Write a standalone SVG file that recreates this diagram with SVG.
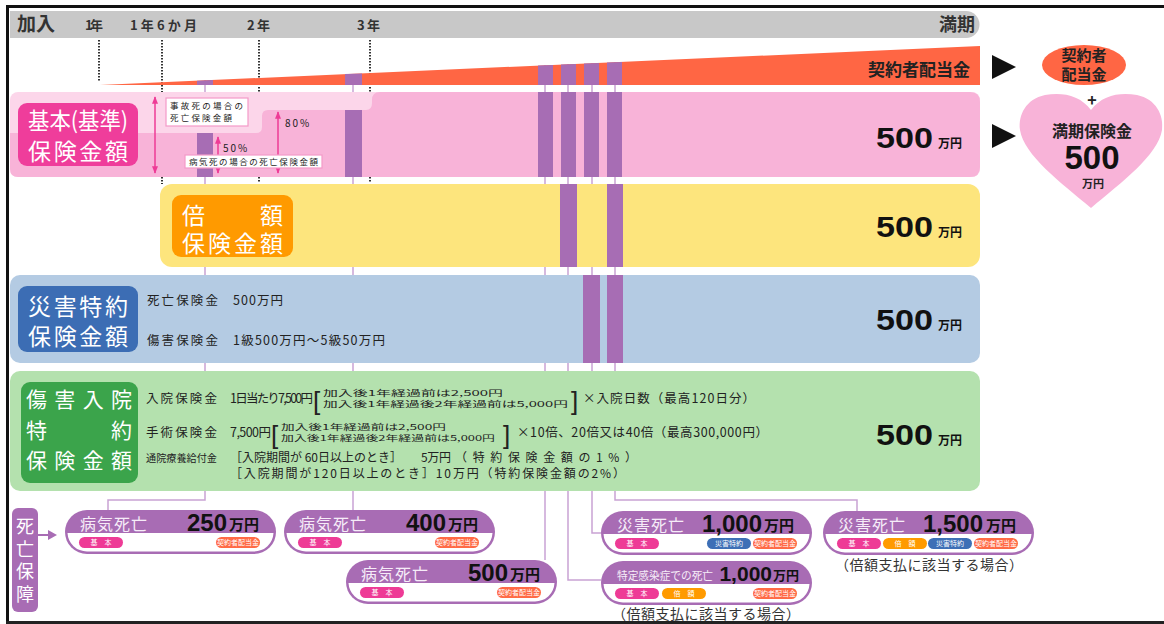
<svg xmlns="http://www.w3.org/2000/svg" width="1164" height="624" viewBox="0 0 1164 624">
<style>
.jp{font-family:'Noto Sans CJK JP','Noto Sans CJK SC',sans-serif}
.n{font-family:'Liberation Sans',Arial,sans-serif;font-weight:bold;fill:#111}
.lbl{font-family:'Noto Sans CJK JP',sans-serif;fill:#fff;font-size:23px}
.yen{font-family:'Noto Sans CJK JP',sans-serif;font-weight:bold;font-size:12px;fill:#111}
.t{font-family:'Noto Sans CJK JP',sans-serif;font-size:12.5px;fill:#222}
.sm{font-family:'Noto Sans CJK JP',sans-serif;font-size:8px;fill:#222}
.br{font-family:'Liberation Sans',sans-serif;font-size:26px;fill:#222}
.con{fill:none;stroke:#c9a2d4;stroke-width:1.5}
.bar{fill:#a76db4}
.dot{stroke:#333;stroke-width:2;stroke-dasharray:1.5 1.5}
.pt{font-family:'Noto Sans CJK JP',sans-serif;font-size:7px;fill:#fff;text-anchor:middle}
.hd{font-family:'Noto Sans CJK JP',sans-serif;font-size:16px;fill:#f6ecf8;letter-spacing:1px}
.bn{font-family:'Liberation Sans',Arial,sans-serif;font-weight:bold;font-size:24px;fill:#111;text-anchor:end}
.by{font-family:'Noto Sans CJK JP',sans-serif;font-size:15px;font-weight:bold;fill:#111}
.cap{font-family:'Noto Sans CJK JP',sans-serif;font-size:14px;fill:#333}
.pk{fill:#ee3b96}.og{fill:#ff9a00}.bl{fill:#3d6fb6}.rd{fill:#ff6a45}
.parr{stroke:#ee3b96;stroke-width:1.5;marker-start:url(#ah);marker-end:url(#ah)}
.bx{fill:#fff;stroke:#f49ac8;stroke-width:1.2}
</style>
<defs>
<marker id="ah" viewBox="0 0 10 10" refX="9" refY="5" markerWidth="5" markerHeight="5" orient="auto-start-reverse"><path d="M0,1 L10,5 L0,9 z" fill="#ee3b96"/></marker>
<g id="dbox"><rect width="211" height="44" rx="22" fill="#a86cb4"/><path d="M2.5,23 H208.5 A19.5,19.5 0 0 1 189,41.5 H22 A19.5,19.5 0 0 1 2.5,23 Z" fill="#fff"/></g>
<rect id="pill" width="44" height="11" rx="5.5"/>
</defs>

<!-- frame -->
<rect x="6" y="5" width="1158" height="3" fill="#111"/>
<rect x="6" y="5" width="3" height="619" fill="#111"/>
<rect x="6" y="621" width="1158" height="3" fill="#222"/>

<!-- timeline bar -->
<g id="timeline">
<path d="M10,11 H966 A13.5,13.5 0 0 1 966,38 H10 Z" fill="#c8c8c8"/>
<text class="jp" x="17" y="31" font-size="19" font-weight="bold" fill="#333">加入</text>
<text class="jp" x="85" y="30" font-size="13" font-weight="bold" fill="#333" textLength="18">1年</text>
<text class="jp" x="130" y="30" font-size="13" font-weight="bold" fill="#333" textLength="67">1年6か月</text>
<text class="jp" x="247" y="30" font-size="13" font-weight="bold" fill="#333" textLength="23">2年</text>
<text class="jp" x="357" y="30" font-size="13" font-weight="bold" fill="#333" textLength="23">3年</text>
<text class="jp" x="975" y="31" font-size="18" font-weight="bold" fill="#333" text-anchor="end">満期</text>
<line class="dot" x1="99" y1="40" x2="99" y2="82"/>
<line class="dot" x1="162" y1="40" x2="162" y2="92"/>
<line class="dot" x1="259" y1="40" x2="259" y2="82"/>
<line class="dot" x1="370" y1="40" x2="370" y2="82"/>
<line class="dot" x1="259" y1="87" x2="259" y2="92"/>
<line class="dot" x1="370" y1="87" x2="370" y2="92"/>
<line class="dot" x1="162" y1="177" x2="162" y2="184"/>
<line class="dot" x1="259" y1="177" x2="259" y2="183"/>
<line class="dot" x1="370" y1="177" x2="370" y2="183"/>
</g>

<!-- connectors -->
<g id="connectors">
<path class="con" d="M205,80 V500 H108 V510"/>
<path class="con" d="M353,74 V510"/>
<path class="con" d="M545,65 V560"/>
<path class="con" d="M568,64 V580 H601"/>
<path class="con" d="M592,63 V533 H601"/>
<path class="con" d="M615,62 V500 H857 V511"/>
</g>

<!-- dividend wedge -->
<g id="dividend">
<polygon points="100,85 980,46 980,85" fill="#ff6644"/>
<polygon class="bar" points="197,80.7 213,80 213,85 197,85"/>
<polygon class="bar" points="345,74.1 362,73.4 362,85 345,85"/>
<polygon class="bar" points="538,65.6 553,64.9 553,85 538,85"/>
<polygon class="bar" points="561,64.6 576,63.9 576,85 561,85"/>
<polygon class="bar" points="584,63.5 599,62.9 599,85 584,85"/>
<polygon class="bar" points="607,62.5 622,61.9 622,85 607,85"/>
<text class="jp" x="970" y="76" font-size="17" font-weight="bold" fill="#222" text-anchor="end">契約者配当金</text>
<polygon points="992,55 1016,67 992,79" fill="#111"/>
<ellipse cx="1084" cy="65" rx="42" ry="20" fill="#ff6644"/>
<text class="jp" x="1084" y="61" font-size="15" font-weight="bold" fill="#222" text-anchor="middle">契約者</text>
<text class="jp" x="1084" y="80" font-size="15" font-weight="bold" fill="#222" text-anchor="middle">配当金</text>
<text class="jp" x="1092" y="106" font-size="16" font-weight="bold" fill="#222" text-anchor="middle">+</text>
</g>

<!-- basic insurance -->
<g id="basic">
<rect x="10" y="92" width="970" height="85" rx="8" fill="#fcd6ea"/>
<path d="M10,133 H256 Q262,133 262,127 V116 Q262,110 268,110 H366 Q372,110 372,103 V100 Q372,92 380,92 H970 Q980,92 980,102 V167 Q980,177 970,177 H18 Q10,177 10,169 Z" fill="#f8b3d8"/>
<rect x="18" y="103" width="120" height="63" rx="9" fill="#ef3d9b"/>
<text class="lbl" x="28" y="129" textLength="100" lengthAdjust="spacingAndGlyphs">基本(基準)</text>
<text class="lbl" x="28" y="160" textLength="100">保険金額</text>
<line class="parr" x1="155" y1="97" x2="155" y2="173"/>
<line class="parr" x1="218" y1="137" x2="218" y2="173"/>
<line class="parr" x1="278" y1="112" x2="278" y2="173"/>
<rect class="bar" x="197" y="133" width="16" height="44"/>
<rect class="bar" x="345" y="110" width="17" height="67"/>
<rect class="bar" x="538" y="92" width="15" height="85"/>
<rect class="bar" x="561" y="92" width="15" height="85"/>
<rect class="bar" x="584" y="92" width="15" height="85"/>
<rect class="bar" x="607" y="92" width="15" height="85"/>
<rect class="bx" x="166" y="98" width="82" height="28"/>
<text class="sm" x="170" y="109" style="font-size:8.5px" textLength="73">事故死の場合の</text>
<text class="sm" x="170" y="121" style="font-size:8.5px" textLength="62">死亡保険金額</text>
<rect class="bx" x="185" y="155" width="137" height="13"/>
<text class="sm" x="189" y="165" style="font-size:8.5px" textLength="129">病気死の場合の死亡保険金額</text>
<text class="t" x="223" y="152" style="font-size:10px" letter-spacing="2">50%</text>
<text class="t" x="285" y="127" style="font-size:10px" letter-spacing="2">80%</text>
<text class="n" x="876" y="148" font-size="30" textLength="57" lengthAdjust="spacingAndGlyphs">500</text>
<text class="yen" x="938" y="148">万円</text>
<polygon points="992,124 1016,136 992,148" fill="#111"/>
</g>

<!-- maturity heart -->
<g id="maturity">
<path d="M1091,110 C1080,95 1062,92 1045,95 C1026,99 1018,115 1020,130 C1024,155 1060,182 1091,208 C1122,182 1158,155 1162,130 C1164,115 1156,99 1137,95 C1120,92 1102,95 1091,110 Z" fill="#f8b3d8"/>
<text class="jp" x="1092" y="137" font-size="16" font-weight="bold" fill="#222" text-anchor="middle">満期保険金</text>
<text class="n" x="1092" y="169" font-size="33" text-anchor="middle">500</text>
<text class="jp" x="1093" y="188" font-size="11" font-weight="bold" fill="#222" text-anchor="middle">万円</text>
</g>

<!-- double indemnity -->
<g id="double">
<rect x="160" y="184" width="820" height="83" rx="12" fill="#fde57d"/>
<rect x="172" y="195" width="121" height="62" rx="9" fill="#ff9a00"/>
<text class="lbl" x="182" y="224">倍</text>
<text class="lbl" x="260" y="224">額</text>
<text class="lbl" x="182" y="252" textLength="101">保険金額</text>
<rect class="bar" x="560" y="184" width="17" height="83"/>
<rect class="bar" x="607" y="184" width="16" height="83"/>
<text class="n" x="876" y="237" font-size="30" textLength="57" lengthAdjust="spacingAndGlyphs">500</text>
<text class="yen" x="938" y="237">万円</text>
</g>

<!-- accident rider -->
<g id="accident">
<rect x="10" y="275" width="970" height="88" rx="10" fill="#b4cbe3"/>
<rect x="18" y="286" width="120" height="66" rx="9" fill="#3c6db4"/>
<text class="lbl" x="28" y="315" textLength="100">災害特約</text>
<text class="lbl" x="28" y="345" textLength="100">保険金額</text>
<text class="t" x="147" y="305" textLength="71">死亡保険金</text>
<text class="t" x="233" y="305" textLength="50">500万円</text>
<text class="t" x="147" y="345" textLength="71">傷害保険金</text>
<text class="t" x="233" y="345" textLength="152">1級500万円～5級50万円</text>
<rect class="bar" x="583" y="275" width="17" height="88"/>
<rect class="bar" x="607" y="275" width="16" height="88"/>
<text class="n" x="876" y="330" font-size="30" textLength="57" lengthAdjust="spacingAndGlyphs">500</text>
<text class="yen" x="938" y="330">万円</text>
</g>

<!-- hospitalization rider -->
<g id="hospital">
<rect x="10" y="371" width="970" height="120" rx="10" fill="#b4e1ae"/>
<rect x="21" y="382" width="117" height="101" rx="9" fill="#3ba44b"/>
<text class="lbl" x="26" y="407" style="font-size:21px" textLength="106">傷害入院</text>
<text class="lbl" x="26" y="438" style="font-size:21px">特</text>
<text class="lbl" x="111" y="438" style="font-size:21px">約</text>
<text class="lbl" x="26" y="468" style="font-size:21px" textLength="106">保険金額</text>
<text class="t" x="146" y="403" textLength="71">入院保険金</text>
<text class="t" x="230" y="403" textLength="83">1日当たり7,500円</text>
<text class="br" x="313" y="410">[</text>
<text class="sm" x="323" y="396" textLength="180" lengthAdjust="spacingAndGlyphs">加入後1年経過前は2,500円</text>
<text class="sm" x="323" y="407" textLength="245" lengthAdjust="spacingAndGlyphs">加入後1年経過後2年経過前は5,000円</text>
<text class="br" x="571" y="410">]</text>
<text class="t" x="583" y="403" textLength="172">×入院日数（最高120日分）</text>
<text class="t" x="146" y="437" textLength="71">手術保険金</text>
<text class="t" x="230" y="437" textLength="41">7,500円</text>
<text class="br" x="271" y="444">[</text>
<text class="sm" x="281" y="430" textLength="165" lengthAdjust="spacingAndGlyphs">加入後1年経過前は2,500円</text>
<text class="sm" x="281" y="441" textLength="214" lengthAdjust="spacingAndGlyphs">加入後1年経過後2年経過前は5,000円</text>
<text class="br" x="503" y="444">]</text>
<text class="t" x="517" y="437" textLength="251">×10倍、20倍又は40倍（最高300,000円）</text>
<text class="t" x="146" y="462" style="font-size:10px" textLength="71" lengthAdjust="spacingAndGlyphs">通院療養給付金</text>
<text class="t" x="230" y="462" style="font-size:12px" textLength="172">［入院期間が 60日以上のとき］</text>
<text class="t" x="421" y="462" style="font-size:12px" textLength="30">5万円</text>
<text class="t" x="455" y="462" style="font-size:12px" textLength="182">（特約保険金額の1%）</text>
<text class="t" x="230" y="478" style="font-size:12px" textLength="395">［入院期間が120日以上のとき］10万円（特約保険金額の2%）</text>
<text class="n" x="876" y="445" font-size="30" textLength="57" lengthAdjust="spacingAndGlyphs">500</text>
<text class="yen" x="938" y="445">万円</text>
</g>

<!-- death benefit label -->
<g id="death-label">
<rect x="12" y="508" width="26" height="104" rx="6" fill="#a86cb4"/>
<text class="jp" x="25" y="533" font-size="18" fill="#fff" text-anchor="middle">死</text>
<text class="jp" x="25" y="556" font-size="18" fill="#fff" text-anchor="middle">亡</text>
<text class="jp" x="25" y="578" font-size="18" fill="#fff" text-anchor="middle">保</text>
<text class="jp" x="25" y="601" font-size="18" fill="#fff" text-anchor="middle">障</text>
<line x1="38" y1="535" x2="50" y2="535" stroke="#a86cb4" stroke-width="2"/>
<polygon points="48,530 57,535 48,540" fill="#a86cb4"/>
</g>

<g id="d1" transform="translate(65,510)">
<use href="#dbox"/>
<text class="hd" x="15" y="20">病気死亡</text>
<text class="bn" x="162" y="21">250</text><text class="by" x="164" y="20">万円</text>
<use href="#pill" class="pk" x="14" y="27"/><text class="pt" x="36" y="35">基　本</text>
<use href="#pill" class="rd" x="151" y="27"/><text class="pt" x="173" y="35">契約者配当金</text>
</g>
<g id="d2" transform="translate(284,510)">
<use href="#dbox"/>
<text class="hd" x="15" y="20">病気死亡</text>
<text class="bn" x="162" y="21">400</text><text class="by" x="164" y="20">万円</text>
<use href="#pill" class="pk" x="14" y="27"/><text class="pt" x="36" y="35">基　本</text>
<use href="#pill" class="rd" x="151" y="27"/><text class="pt" x="173" y="35">契約者配当金</text>
</g>
<g id="d3" transform="translate(346,560)">
<use href="#dbox"/>
<text class="hd" x="15" y="20">病気死亡</text>
<text class="bn" x="162" y="21">500</text><text class="by" x="164" y="20">万円</text>
<use href="#pill" class="pk" x="14" y="27"/><text class="pt" x="36" y="35">基　本</text>
<use href="#pill" class="rd" x="151" y="27"/><text class="pt" x="173" y="35">契約者配当金</text>
</g>
<g id="d4" transform="translate(601,511)">
<use href="#dbox"/>
<text class="hd" x="16" y="20">災害死亡</text>
<text class="bn" x="161" y="21">1,000</text><text class="by" x="163" y="20">万円</text>
<use href="#pill" class="pk" x="14" y="27"/><text class="pt" x="36" y="35">基　本</text>
<use href="#pill" class="bl" x="106" y="27"/><text class="pt" x="128" y="35">災害特約</text>
<use href="#pill" class="rd" x="152" y="27"/><text class="pt" x="174" y="35">契約者配当金</text>
</g>
<g id="d5" transform="translate(823,511)">
<use href="#dbox"/>
<text class="hd" x="15" y="20">災害死亡</text>
<text class="bn" x="160" y="21">1,500</text><text class="by" x="163" y="20">万円</text>
<use href="#pill" class="pk" x="14" y="27"/><text class="pt" x="36" y="35">基　本</text>
<use href="#pill" class="og" x="60" y="27"/><text class="pt" x="82" y="35">倍　額</text>
<use href="#pill" class="bl" x="105" y="27"/><text class="pt" x="127" y="35">災害特約</text>
<use href="#pill" class="rd" x="151" y="27"/><text class="pt" x="173" y="35">契約者配当金</text>
</g>
<text class="cap" x="835" y="570" textLength="188">（倍額支払に該当する場合）</text>
<g id="d6" transform="translate(601,561)">
<use href="#dbox"/>
<text class="hd" x="16" y="19" style="font-size:11.5px;letter-spacing:0" textLength="96" lengthAdjust="spacingAndGlyphs">特定感染症での死亡</text>
<text class="bn" x="171" y="20" style="font-size:21px">1,000</text><text class="by" x="172" y="19" style="font-size:13px">万円</text>
<use href="#pill" class="pk" x="14" y="27"/><text class="pt" x="36" y="35">基　本</text>
<use href="#pill" class="og" x="61" y="27"/><text class="pt" x="83" y="35">倍　額</text>
<use href="#pill" class="rd" x="152" y="27"/><text class="pt" x="174" y="35">契約者配当金</text>
</g>
<text class="cap" x="612" y="619" textLength="188">（倍額支払に該当する場合）</text>
</svg>
